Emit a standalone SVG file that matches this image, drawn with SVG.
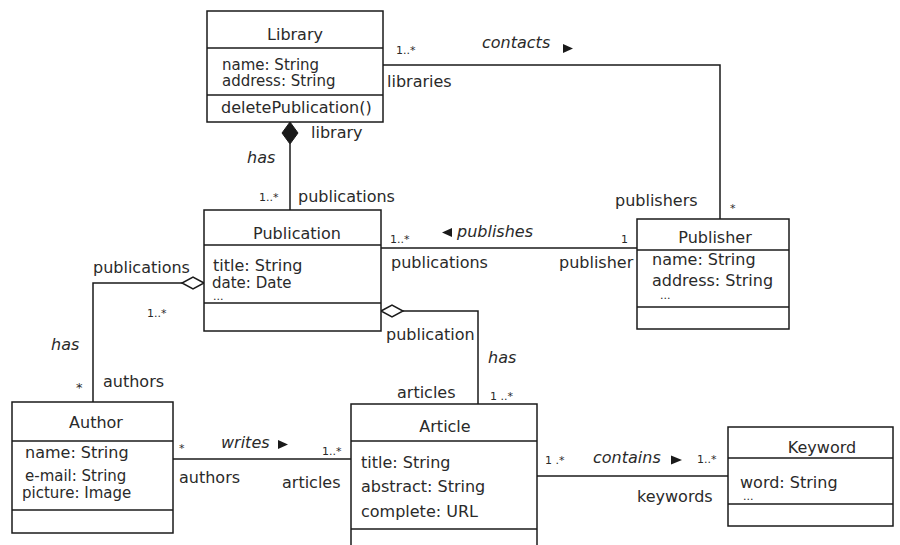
<svg xmlns="http://www.w3.org/2000/svg" width="900" height="545" viewBox="0 0 900 545">
<style>
.box{fill:#fff;stroke:#1a1a1a;stroke-width:1.5}
.sep{stroke:#1a1a1a;stroke-width:1.5}
.ln{fill:none;stroke:#1a1a1a;stroke-width:1.5}
text{font-family:"DejaVu Sans","Liberation Sans",sans-serif;font-size:16px;fill:#2a2a2a}
.c{text-anchor:middle}
.i{font-style:italic}
.s{font-size:11px}
.d{font-size:11px}
.a{font-size:15px}
.tri{fill:#1a1a1a}
</style>
<rect width="900" height="545" fill="#fff"/>
<g id="connectors">
  <polyline class="ln" points="383,65 720,65 720,219"/>
  <line class="ln" x1="290" y1="144" x2="290" y2="210"/>
  <polygon points="290,122 298,133 290,144 282,133" fill="#1a1a1a" stroke="#1a1a1a" stroke-width="1"/>
  <line class="ln" x1="381" y1="248" x2="637" y2="248"/>
  <polyline class="ln" points="182,283 93,283 93,402"/>
  <polygon points="204,283 193,277 182,283 193,289" fill="#fff" stroke="#1a1a1a" stroke-width="1.5"/>
  <polyline class="ln" points="403,311 478,311 478,404"/>
  <polygon points="381,311 392,305 403,311 392,317" fill="#fff" stroke="#1a1a1a" stroke-width="1.5"/>
  <line class="ln" x1="173" y1="459" x2="351" y2="459"/>
  <line class="ln" x1="537" y1="476" x2="728" y2="476"/>
  <text class="s" x="396" y="54">1..*</text>
  <text class="i" x="482" y="48">contacts</text>
  <polygon class="tri" points="563,44 573,48.5 563,53"/>
  <text x="387" y="87">libraries</text>
  <text x="615" y="206">publishers</text>
  <text class="s" x="730" y="212">*</text>
  <text x="311" y="138">library</text>
  <text class="i" x="247" y="163">has</text>
  <text class="s" x="259" y="201">1..*</text>
  <text x="298" y="202">publications</text>
  <text class="s" x="390" y="243">1..*</text>
  <polygon class="tri" points="442,232.5 452,228 452,237"/>
  <text class="i" x="457" y="237">publishes</text>
  <text class="s" x="621" y="243">1</text>
  <text x="391" y="268">publications</text>
  <text x="559" y="268">publisher</text>
  <text x="93" y="273">publications</text>
  <text class="s" x="147" y="317">1..*</text>
  <text class="i" x="51" y="350">has</text>
  <text style="font-size:13px" x="76" y="392">*</text>
  <text x="103" y="387">authors</text>
  <text x="386" y="340">publication</text>
  <text class="i" x="488" y="363">has</text>
  <text x="397" y="398">articles</text>
  <text class="s" x="490" y="400">1 ..*</text>
  <text class="s" x="179" y="452">*</text>
  <text class="i" x="221" y="448">writes</text>
  <polygon class="tri" points="278,440 288,444.5 278,449"/>
  <text class="s" x="322" y="455">1..*</text>
  <text x="179" y="483">authors</text>
  <text x="282" y="488">articles</text>
  <text class="s" x="545" y="464">1 .*</text>
  <text class="i" x="593" y="463">contains</text>
  <polygon class="tri" points="671,455.5 682,460 671,464.5"/>
  <text class="s" x="697" y="463">1..*</text>
  <text x="637" y="502">keywords</text>
</g>
<g id="library">
  <rect class="box" x="207" y="11" width="176" height="111"/>
  <line class="sep" x1="207" y1="48" x2="383" y2="48"/>
  <line class="sep" x1="207" y1="95" x2="383" y2="95"/>
  <text class="c" x="295" y="40">Library</text>
  <text class="a" x="222" y="70">name: String</text>
  <text class="a" x="222" y="86">address: String</text>
  <text x="221" y="113">deletePublication()</text>
</g>
<g id="publication">
  <rect class="box" x="204" y="210" width="177" height="121"/>
  <line class="sep" x1="204" y1="245" x2="381" y2="245"/>
  <line class="sep" x1="204" y1="303" x2="381" y2="303"/>
  <text class="c" x="297" y="239">Publication</text>
  <text x="213" y="271">title: String</text>
  <text class="a" x="212" y="288">date: Date</text>
  <text class="d" x="213" y="300">...</text>
</g>
<g id="publisher">
  <rect class="box" x="637" y="219" width="152" height="110"/>
  <line class="sep" x1="637" y1="250" x2="789" y2="250"/>
  <line class="sep" x1="637" y1="307" x2="789" y2="307"/>
  <text class="c" x="715" y="243">Publisher</text>
  <text x="652" y="265">name: String</text>
  <text x="652" y="286">address: String</text>
  <text class="d" x="660" y="299">...</text>
</g>
<g id="author">
  <rect class="box" x="12" y="402" width="161" height="131"/>
  <line class="sep" x1="12" y1="441" x2="173" y2="441"/>
  <line class="sep" x1="12" y1="510" x2="173" y2="510"/>
  <text class="c" x="96" y="428">Author</text>
  <text x="25" y="458">name: String</text>
  <text class="a" x="25" y="481">e-mail: String</text>
  <text class="a" x="22" y="498">picture: Image</text>
</g>
<g id="article">
  <rect class="box" x="351" y="404" width="186" height="160"/>
  <line class="sep" x1="351" y1="441" x2="537" y2="441"/>
  <line class="sep" x1="351" y1="529" x2="537" y2="529"/>
  <text class="c" x="445" y="432">Article</text>
  <text x="361" y="468">title: String</text>
  <text x="361" y="492">abstract: String</text>
  <text x="361" y="517">complete: URL</text>
</g>
<g id="keyword">
  <rect class="box" x="728" y="427" width="165" height="99"/>
  <line class="sep" x1="728" y1="458" x2="893" y2="458"/>
  <line class="sep" x1="728" y1="504" x2="893" y2="504"/>
  <text class="c" x="822" y="453">Keyword</text>
  <text x="740" y="488">word: String</text>
  <text class="d" x="743" y="500">...</text>
</g>
</svg>
